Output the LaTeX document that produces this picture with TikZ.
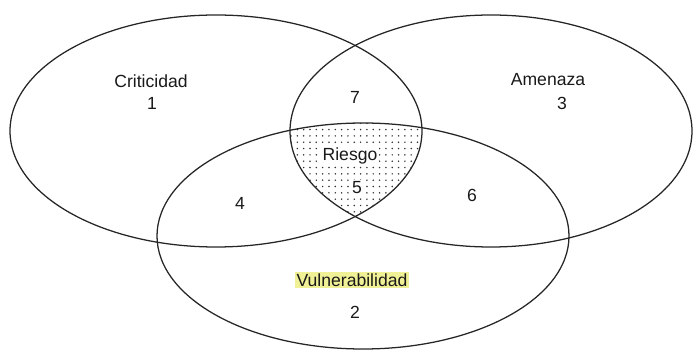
\documentclass[tikz,border=0pt]{standalone}
\usepackage{fontspec}
\setmainfont{Liberation Sans}
\usetikzlibrary{patterns.meta}
\definecolor{marca}{RGB}{240,240,150}
\tikzstyle{conjunto} = [line width=0.9pt, draw=black!85]
\tikzstyle{etiqueta} = [font=\fontsize{12.5}{14}\selectfont, text=black!90, inner sep=1pt]
\tikzstyle{numero} = [font=\fontsize{12.5}{14}\selectfont, text=black!90, inner sep=1pt]

\begin{document}
\begin{tikzpicture}
\useasboundingbox (0,0) rectangle (17.35,8.775);
% zona de riesgo (interseccion de los tres conjuntos)
\begin{scope}
\clip (5.4,5.5) ellipse [x radius=5.15cm, y radius=2.9cm];
\clip (12.275,5.5) ellipse [x radius=5.025cm, y radius=2.9cm];
\fill [pattern={Dots[distance=4.5pt, radius=0.6pt]}, pattern color=black!80] (9.075,2.875) ellipse [x radius=5.15cm, y radius=2.825cm];
\end{scope}
% conjuntos
\draw [conjunto] (5.4,5.5) ellipse [x radius=5.15cm, y radius=2.9cm];
\draw [conjunto] (12.275,5.5) ellipse [x radius=5.025cm, y radius=2.9cm];
\draw [conjunto] (9.075,2.875) ellipse [x radius=5.15cm, y radius=2.825cm];
% textos
\node (crit) [etiqueta] at (3.775,6.75) {Criticidad};
\node (n1) [numero] at (3.8,6.2) {1};
\node (amen) [etiqueta] at (13.7,6.775) {Amenaza};
\node (n3) [numero] at (14.05,6.2) {3};
\node (n7) [numero] at (8.875,6.35) {7};
\node (ries) [etiqueta, fill=white] at (8.75,4.875) {Riesgo};
\node (n5) [numero, fill=white] at (8.925,4.075) {5};
\node (n4) [numero] at (6.0,3.7) {4};
\node (n6) [numero] at (11.8,3.9) {6};
\node (vuln) [etiqueta, fill=marca] at (8.8,1.775) {Vulnerabilidad};
\node (n2) [numero] at (8.875,0.975) {2};
\end{tikzpicture}
\end{document}
